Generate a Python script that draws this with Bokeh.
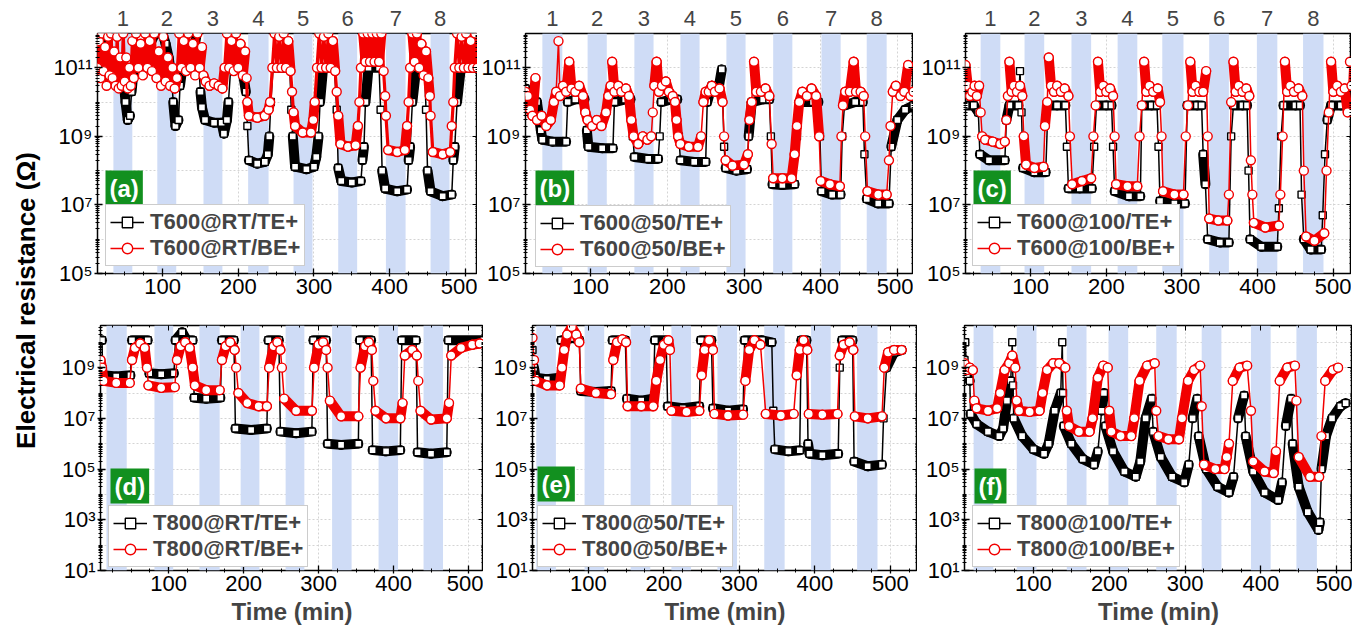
import math
from bokeh.plotting import figure
from bokeh.models import (Range1d, FixedTicker, LinearAxis, LogAxis, Legend, LegendItem,
                          Label, BoxAnnotation, CustomJSTickFormatter)
from bokeh.layouts import row, column
from bokeh.embed import file_html
from bokeh.resources import INLINE

FONT = "Liberation Sans"
BAND = "#cfdcf6"
GREEN = "#12901f"
RED = "#f20000"

# ---------------- data (time in min, resistance in ohm) ----------------
BANDS_A_START = [35, 93, 154, 213, 273, 332, 395, 454]
BANDS_A_END = [60, 118, 179, 240, 298, 357, 421, 479]
BANDS_B_START = [37, 96, 157, 217, 277, 338, 401, 460]
BANDS_B_END = [63, 121, 182, 242, 302, 363, 426, 486]
BANDS_C_START = [34, 92, 154, 215, 274, 336, 399, 460]
BANDS_C_END = [60, 118, 180, 241, 302, 362, 426, 487]
BANDS_D_START = [17, 81, 141, 196, 256, 318, 380, 440]
BANDS_D_END = [44, 106, 168, 221, 281, 344, 406, 466]
BANDS_E_START = [31, 95, 156, 210, 271, 333, 395, 456]
BANDS_E_END = [57, 121, 182, 236, 297, 360, 421, 483]
BANDS_F_START = [21, 78, 144, 199, 262, 322, 387, 447]
BANDS_F_END = [47, 104, 170, 225, 289, 348, 413, 474]

TE_A = [(14, 5e11), (18, 1e12), (22, 2e11), (28, 1e11), (35, 1e11), (48, 6e10), (51, 1e10), (54, 3e9),
        (57, 4e9), (59, 2e10), (62, 1e11), (75, 2e11), (90, 1e12), (100, 1e12), (104, 5e11), (108, 2e11),
        (112, 5e10), (114, 1e10), (117, 2e9), (121, 3e9), (123, 3e10), (126, 1e11), (140, 2e11), (145, 1e12),
        (150, 2e10), (152, 7e9), (156, 3e9), (168, 2.5e9), (178, 2.5e9), (181, 1.2e9), (185, 3e9), (187, 1e10),
        (190, 1e11), (205, 1e11), (210, 2e10), (212, 2e9), (214, 2e8), (225, 1.6e8), (235, 1.8e8), (239, 3e8),
        (241, 1e9), (243, 1e10), (246, 1e11), (268, 1e11), (270, 6e9), (272, 1e9), (275, 1.3e8), (290, 1.1e8),
        (300, 1.3e8), (303, 2.5e8), (306, 1e9), (308, 1e10), (312, 1e11), (327, 1e11), (330, 6e9), (332, 1.2e8),
        (336, 5e7), (350, 4.5e7), (362, 5e7), (364, 2e8), (366, 5e8), (368, 1e10), (372, 1e11), (386, 1e11),
        (388, 6e9), (390, 1e8), (394, 3e7), (410, 2.5e7), (423, 2.8e7), (425, 2e8), (427, 5e8), (430, 1e10),
        (435, 1e11), (446, 1e11), (448, 6e9), (450, 1e8), (454, 2.5e7), (470, 1.8e7), (482, 2e7), (484, 2e8),
        (486, 5e8), (489, 1e10), (494, 1e11), (516, 1e11)]
BE_A = [(14, 1e11), (16, 6e11), (18, 5e10), (20, 1e12), (22, 8e10), (24, 4e11), (26, 3e10), (28, 8e11),
        (30, 6e10), (32, 1e12), (34, 5e10), (36, 3e11), (38, 3e10), (40, 8e11), (42, 2.5e10), (44, 2e11),
        (46, 3e10), (48, 1e12), (50, 4e10), (52, 2e11), (54, 2.5e10), (56, 1e11), (58, 3e10), (60, 6e11),
        (62, 5e10), (65, 1e12), (68, 1e11), (71, 5e11), (74, 6e10), (77, 1e12), (80, 1e11), (83, 6e11),
        (86, 8e10), (89, 1e12), (92, 5e10), (95, 3e11), (98, 3e10), (101, 8e11), (104, 4e10), (107, 2e11),
        (110, 3e10), (113, 1e11), (116, 2.5e10), (119, 5e10), (122, 1e12), (125, 1e11), (128, 6e11), (131, 8e10),
        (134, 1e12), (137, 1e11), (140, 5e11), (143, 6e10), (146, 1e12), (149, 1e11), (152, 4e11), (154, 6e10),
        (157, 4e10), (162, 3e10), (168, 3.5e10), (174, 3e10), (179, 2.5e10), (182, 1e11), (185, 1e12), (188, 1e11),
        (191, 6e11), (194, 8e10), (197, 1e12), (200, 1e11), (203, 5e11), (206, 6e10), (209, 3e11), (211, 5e10),
        (212, 1e10), (214, 4e9), (225, 3.5e9), (235, 4e9), (240, 6e9), (242, 1e10), (245, 1e11), (248, 1e12),
        (251, 1e11), (254, 8e11), (257, 1e11), (260, 1e12), (263, 1e11), (266, 6e11), (269, 8e10), (271, 2e10),
        (273, 5e9), (275, 2e9), (285, 1.3e9), (296, 1.3e9), (299, 3e9), (301, 1e10), (304, 1e11), (307, 1e12),
        (310, 1e11), (313, 8e11), (316, 1e11), (319, 1e12), (322, 1e11), (325, 6e11), (328, 8e10), (330, 2e10),
        (332, 4e9), (335, 6e8), (345, 5e8), (355, 5.5e8), (358, 2e9), (360, 1e10), (362, 1e11), (365, 1e12),
        (368, 1.5e11), (371, 1e12), (374, 1.5e11), (377, 1e12), (380, 1.5e11), (383, 1e12), (386, 1.5e11),
        (389, 1e12), (392, 8e10), (394, 1.5e10), (395, 4e9), (398, 4e8), (410, 3.5e8), (420, 4e8), (423, 2e9),
        (425, 1e10), (427, 1e11), (430, 1e12), (433, 1.5e11), (436, 1e12), (439, 1e11), (442, 5e11), (445, 6e10),
        (448, 3e11), (451, 5e10), (453, 1.5e10), (454, 4e9), (457, 3.5e8), (470, 3e8), (480, 3.5e8), (482, 2e9),
        (484, 1e10), (486, 1e11), (489, 1e12), (492, 1e11), (495, 8e11), (498, 1e11), (501, 1e12), (504, 1e11),
        (507, 6e11), (510, 1e11), (513, 1e12), (516, 1e11)]

TE_B = [(15, 2.5e10), (22, 1.5e10), (30, 1e10), (35, 1.5e9), (37, 8e8), (50, 7e8), (68, 7e8), (70, 1e10),
        (80, 1.2e10), (92, 1.2e10), (95, 1.5e9), (97, 5e8), (115, 4.5e8), (129, 4.5e8), (131, 1e10), (145, 1.2e10),
        (152, 1.2e10), (155, 1e9), (157, 2.5e8), (175, 2.2e8), (188, 2.2e8), (190, 1e9), (192, 1e10), (205, 1.2e10),
        (213, 1.2e10), (215, 1e9), (217, 2e8), (235, 1.8e8), (250, 1.8e8), (252, 1e10), (258, 3e10), (266, 2e10),
        (271, 9e10), (274, 5e8), (276, 1.2e8), (290, 1e8), (304, 1.1e8), (306, 1e9), (310, 1e10), (325, 1.2e10),
        (333, 1.2e10), (335, 1e9), (337, 4e7), (350, 3.8e7), (366, 4e7), (369, 1e9), (372, 1e10), (390, 1e10),
        (397, 1e10), (399, 1e9), (401, 2.5e7), (415, 2e7), (426, 2e7), (428, 1e9), (431, 8e9), (445, 1e10),
        (455, 1e10), (457, 3e8), (460, 1.5e7), (475, 1.1e7), (489, 1.1e7), (492, 5e8), (500, 3e9), (510, 6e9),
        (521, 8e9)]
BE_B = [(15, 2e10), (18, 1.5e10), (21, 6e9), (24, 4e9), (28, 5e10), (30, 3e9), (36, 4e9), (42, 2e9),
        (48, 3e9), (52, 1e10), (55, 2e10), (58, 6e11), (60, 1.5e10), (64, 3e10), (68, 2e10), (72, 1.5e11),
        (75, 2.5e10), (80, 2e10), (85, 3e10), (90, 1.5e10), (93, 5e9), (96, 3e9), (102, 2e9), (108, 3e9),
        (114, 2e9), (120, 5e9), (123, 1.5e10), (126, 3e10), (128, 1.5e11), (131, 2e10), (136, 3e10), (140, 2e10),
        (146, 2.5e10), (150, 1.5e10), (153, 3e9), (156, 1e9), (162, 6e8), (168, 1e9), (174, 8e8), (179, 1e9),
        (181, 5e9), (183, 3e10), (186, 1.5e11), (189, 2e10), (193, 3e10), (198, 4e10), (202, 2e10), (207, 1.5e10),
        (210, 1e10), (212, 3e9), (214, 1e9), (217, 6e8), (228, 5e8), (240, 5e8), (244, 1e9), (247, 1e10),
        (250, 2e10), (254, 2e10), (258, 3e10), (262, 2e10), (268, 2.5e10), (272, 1e10), (274, 1e9), (276, 2e8),
        (285, 1.4e8), (300, 1.5e8), (305, 3e8), (307, 3e9), (310, 1e10), (313, 1.5e11), (316, 2e10), (322, 2e10),
        (328, 2.5e10), (333, 1.5e10), (336, 6e8), (338, 6e7), (350, 6e7), (362, 6e7), (366, 3e8), (369, 2e9),
        (372, 1e10), (376, 2e10), (382, 1.5e10), (388, 2.5e10), (394, 1.5e10), (398, 1e9), (400, 5e7),
        (412, 4e7), (425, 3.5e7), (427, 1e9), (429, 8e9), (432, 2e10), (438, 2e10), (443, 1.5e11), (446, 2e10),
        (452, 2e10), (456, 1.5e10), (458, 1e9), (461, 2.5e7), (475, 2e7), (486, 2e7), (489, 2e8), (491, 2e9),
        (494, 2e10), (498, 3e10), (504, 1.5e10), (509, 2e10), (514, 1.2e11), (517, 1.5e10), (521, 2e10)]

TE_C = [(14, 8e9), (25, 8e9), (31, 5e9), (33, 3e8), (45, 2e8), (66, 2e8), (68, 3e9), (72, 8e9), (84, 8e9),
        (86, 8e10), (88, 5e9), (90, 1.2e8), (105, 9e7), (120, 9e7), (123, 8e9), (135, 8e9), (146, 8e9),
        (148, 5e8), (150, 3e7), (165, 3e7), (181, 3e7), (184, 5e8), (187, 8e9), (200, 8e9), (207, 8e9),
        (209, 5e8), (211, 2.5e7), (230, 1.8e7), (245, 1.8e7), (247, 8e9), (260, 8e9), (267, 8e9), (269, 5e8),
        (271, 1.3e7), (290, 1.1e7), (304, 1.1e7), (307, 8e9), (320, 8e9), (326, 8e9), (328, 3e8), (331, 4e7),
        (334, 1e6), (350, 8e5), (362, 8e5), (365, 1e9), (368, 8e9), (380, 8e9), (386, 8e9), (388, 1e8),
        (390, 1e6), (405, 6e5), (426, 6e5), (428, 8e6), (431, 1e9), (434, 8e9), (450, 8e9), (456, 8e9),
        (458, 2e7), (461, 1e6), (470, 5e5), (484, 5e5), (486, 5e6), (489, 3e8), (492, 3e9), (497, 8e9),
        (510, 8e9), (524, 8e9)]
BE_C = [(14, 1.2e11), (17, 3e10), (20, 1.5e10), (23, 2e10), (26, 3e10), (29, 1.5e10), (32, 3e10), (34, 5e9),
        (36, 1e9), (40, 8e8), (50, 7e8), (60, 6e8), (66, 7e8), (68, 3e9), (70, 1.5e10), (72, 1.5e11), (75, 2e10),
        (78, 3e10), (82, 2e10), (86, 3e10), (89, 1.5e10), (91, 1e9), (94, 1.5e8), (105, 1.2e8), (117, 1.3e8),
        (119, 2e9), (122, 1e10), (124, 2e11), (127, 3e10), (131, 2e10), (135, 3e10), (140, 2e10), (145, 2.5e10),
        (150, 1.5e10), (152, 1e9), (155, 4e7), (168, 5e7), (180, 6e7), (183, 1e9), (186, 8e9), (189, 1.5e11),
        (192, 2e10), (196, 3e10), (200, 2e10), (205, 2.5e10), (209, 1.5e10), (211, 1e9), (213, 4e7), (228, 3.5e7),
        (241, 3.5e7), (244, 1e9), (247, 8e9), (250, 1.5e11), (253, 2e10), (257, 3e10), (262, 2e10), (268, 2.5e10),
        (271, 1e10), (273, 1e9), (275, 2.5e7), (290, 2e7), (302, 2e7), (305, 1e9), (308, 8e9), (311, 1.5e11),
        (314, 2e10), (318, 3e10), (323, 2e10), (328, 2e10), (332, 8e10), (334, 1e9), (336, 4e6), (348, 3.5e6),
        (360, 3.5e6), (362, 2e7), (365, 1e10), (368, 1.5e11), (371, 2e10), (375, 3e10), (380, 2e10), (385, 2.5e10),
        (389, 1.5e10), (391, 2e8), (393, 2e7), (395, 3e6), (410, 2.2e6), (428, 2.5e6), (430, 2e7), (433, 1e9),
        (436, 1.5e11), (439, 2e10), (443, 3e10), (448, 2e10), (454, 2.5e10), (459, 1.5e10), (461, 1e8),
        (464, 1.2e6), (475, 9e5), (488, 1.5e6), (491, 1e8), (494, 5e9), (497, 1.5e11), (500, 2e10), (505, 3e10),
        (510, 2e10), (515, 2.5e10), (519, 5e9), (522, 1.5e11), (524, 3e10)]

TE_D = [(9, 1.2e10), (11, 1.2e10), (12, 5e8), (30, 4.5e8), (49, 5e8), (51, 1.2e10), (72, 1.2e10), (74, 6e8),
        (90, 5.5e8), (107, 6e8), (109, 1.2e10), (118, 2.5e10), (124, 1.2e10), (132, 1.2e10), (134, 6.5e7),
        (150, 6e7), (169, 6.5e7), (171, 1.2e10), (187, 1.2e10), (189, 4e6), (210, 3.5e6), (231, 4e6),
        (233, 1.2e10), (247, 1.2e10), (249, 3e6), (270, 2.6e6), (291, 3e6), (293, 1.2e10), (310, 1.2e10),
        (312, 1e6), (330, 9e5), (353, 1e6), (355, 1.2e10), (370, 1.2e10), (372, 5.6e5), (390, 5e5), (409, 5.6e5),
        (411, 1.2e10), (430, 1.2e10), (432, 4.6e5), (450, 4e5), (471, 4.6e5), (473, 1.2e10), (520, 1.2e10)]
BE_D = [(9, 2e9), (11, 1e9), (13, 3e8), (30, 2.5e8), (48, 2.5e8), (51, 2e9), (55, 6e9), (62, 9e9), (68, 6e9),
        (71, 1e9), (73, 2e8), (90, 1.6e8), (108, 1.7e8), (111, 2e9), (116, 7e9), (122, 1e10), (128, 6e9),
        (132, 1e9), (135, 2e8), (150, 1.3e8), (168, 1.3e8), (171, 2e9), (176, 7e9), (182, 1e10), (188, 5e9),
        (190, 1e9), (193, 1e8), (205, 4e7), (220, 3e7), (231, 3e7), (234, 1e9), (240, 7e9), (245, 1e10),
        (249, 5e9), (251, 1e9), (254, 6e7), (270, 2e7), (291, 2e7), (294, 1e9), (300, 8e9), (306, 1e10),
        (310, 5e9), (312, 1e9), (315, 5e7), (330, 1.2e7), (353, 1.2e7), (356, 1e9), (362, 7e9), (367, 1e10),
        (371, 5e9), (373, 3e8), (376, 2e7), (390, 1e7), (409, 1e7), (412, 4e7), (415, 3e9), (425, 5e9),
        (431, 3e9), (433, 3e8), (436, 2e7), (450, 9e6), (471, 1e7), (474, 4e7), (477, 3e9), (490, 6e9),
        (505, 8e9), (515, 9e9)]

TE_E = [(26, 5e9), (28, 1e9), (30, 4e8), (45, 3.5e8), (62, 4e8), (64, 1.2e10), (80, 1.5e10), (88, 1.2e10),
        (90, 1.2e8), (110, 1.1e8), (130, 1.2e8), (132, 1.2e10), (149, 1.2e10), (151, 6e7), (170, 5e7),
        (186, 6e7), (188, 1.2e10), (203, 1.2e10), (205, 3e7), (225, 2.5e7), (247, 3e7), (249, 1.2e10),
        (263, 1.2e10), (265, 2.5e7), (285, 2e7), (305, 2.3e7), (307, 1.2e10), (330, 1.2e10), (343, 1e10),
        (345, 2e7), (347, 6e5), (365, 5e5), (380, 5.5e5), (382, 1.2e10), (389, 1.2e10), (391, 1e6), (393, 4e5),
        (410, 3.5e5), (431, 4e5), (433, 1e9), (436, 1.2e10), (450, 1.2e10), (452, 2e5), (470, 1.3e5),
        (489, 1.5e5), (491, 1e7), (495, 1e9), (505, 4e9), (515, 5e9)]
BE_E = [(26, 1.5e10), (28, 2e9), (30, 3e8), (45, 2e8), (62, 2e8), (65, 1e9), (68, 5e9), (72, 2e10),
        (78, 4e10), (84, 2e10), (88, 1e10), (90, 1.5e8), (110, 1e8), (130, 9e7), (133, 2e9), (138, 1e10),
        (145, 1.3e10), (150, 1e10), (152, 3e7), (170, 3e7), (186, 3e7), (190, 3e8), (195, 2e9), (200, 8e9),
        (206, 1.2e10), (208, 5e9), (210, 2e7), (230, 1.8e7), (247, 2e7), (250, 5e8), (254, 5e9), (260, 1.2e10),
        (265, 5e9), (267, 1.5e7), (285, 1.3e7), (305, 1.4e7), (308, 3e8), (313, 5e9), (320, 1.2e10), (328, 8e9),
        (335, 1.5e7), (355, 1.3e7), (372, 1.5e7), (376, 5e8), (380, 5e9), (385, 1.2e10), (390, 5e9),
        (392, 1.5e7), (410, 1.4e7), (430, 1.5e7), (433, 3e9), (438, 8e9), (446, 1e10), (451, 5e9), (453, 1.2e7),
        (470, 1e7), (489, 1.2e7), (492, 1e9), (497, 4e9), (505, 5e9), (515, 5e9)]

TE_F = [(9, 2e9), (10, 1e10), (12, 5e8), (16, 3e8), (17, 1.5e7), (25, 6e6), (40, 3e6), (55, 2e6), (60, 4e6),
        (65, 5e7), (70, 3e8), (72, 1e10), (73, 2e8), (74, 1e7), (85, 2e6), (100, 6e5), (114, 4e5), (120, 1e6),
        (128, 2e7), (136, 1e8), (138, 1e10), (139, 1e8), (140, 5e6), (150, 1e6), (165, 2.5e5), (180, 1.5e5),
        (185, 5e5), (190, 2e7), (193, 1e8), (195, 5e6), (205, 5e5), (220, 8e4), (235, 5e4), (241, 2e5),
        (248, 1e7), (256, 6e7), (258, 3e6), (268, 3e5), (283, 5e4), (299, 3e4), (305, 1.5e5), (310, 1e7),
        (316, 6e7), (318, 2e6), (328, 1e5), (343, 2e4), (358, 1.2e4), (364, 5e4), (370, 1e7), (378, 8e7),
        (380, 2e6), (390, 8e4), (405, 1.2e4), (423, 6e3), (428, 3e4), (433, 5e6), (440, 6e7), (442, 1e6),
        (450, 2e4), (462, 2e3), (476, 4e2), (478, 8e2), (480, 1e5), (486, 2e6), (494, 1e7), (505, 3e7),
        (512, 4e7)]
BE_F = [(9, 1.5e9), (12, 8e8), (16, 1e9), (20, 8e8), (22, 5e7), (25, 2.5e7), (40, 2e7), (52, 2.5e7),
        (56, 1e8), (62, 8e8), (68, 1.5e9), (72, 3e9), (76, 1e9), (78, 5e7), (81, 2e7), (95, 1.8e7), (108, 2e7),
        (112, 1e8), (118, 8e8), (126, 1.5e9), (134, 1.5e9), (142, 1e9), (144, 2e7), (147, 5e6), (160, 3e6),
        (174, 3e6), (178, 1e7), (185, 4e8), (192, 1.2e9), (198, 1e9), (200, 2e7), (203, 3e6), (215, 2e6),
        (229, 2e6), (233, 1e7), (240, 3e8), (250, 1.2e9), (260, 1.5e9), (262, 2e7), (265, 2e6), (278, 1.5e6),
        (292, 1.5e6), (296, 1e7), (304, 3e8), (312, 8e8), (320, 1.2e9), (322, 3e7), (325, 1.5e5), (340, 1e5),
        (352, 1e5), (355, 3e5), (358, 1e6), (363, 3e8), (372, 1e9), (382, 1.2e9), (387, 2e7), (390, 2e5),
        (405, 8e4), (417, 7e4), (420, 5e5), (425, 3e8), (435, 1e9), (445, 1.2e9), (447, 5e7), (450, 3e5),
        (465, 5e4), (477, 5e4), (480, 2e6), (485, 3e8), (495, 8e8), (502, 1e9)]

X_TICKS = [100, 200, 300, 400, 500]
Y_TICKS_TOP = [1e5, 1e7, 1e9, 1e11]
Y_TICKS_BOTTOM = [1e1, 1e3, 1e5, 1e7, 1e9]

PANELS = [
    dict(tag="(a)", te=TE_A, be=BE_A, te_lab="T600@RT/TE+", be_lab="T600@RT/BE+", bs=BANDS_A_START, be_=BANDS_A_END,
         xr=(14, 516), top=True, ml=53, fw=380, leg=(8, 7), lab=(8, 68), rw=3.2),
    dict(tag="(b)", te=TE_B, be=BE_B, te_lab="T600@50/TE+", be_lab="T600@50/BE+", bs=BANDS_B_START, be_=BANDS_B_END,
         xr=(15, 521), top=True, ml=48, fw=388, leg=(10, 6), lab=(10, 68), rw=0),
    dict(tag="(c)", te=TE_C, be=BE_C, te_lab="T600@100/TE+", be_lab="T600@100/BE+", bs=BANDS_C_START, be_=BANDS_C_END,
         xr=(14, 524), top=True, ml=52, fw=386, leg=(7, 7), lab=(8, 68), rw=0),
    dict(tag="(d)", te=TE_D, be=BE_D, te_lab="T800@RT/TE+", be_lab="T800@RT/BE+", bs=BANDS_D_START, be_=BANDS_D_END,
         xr=(9, 520), top=False, ml=56, fw=383, leg=(8, 3), lab=(10, 67), rw=0),
    dict(tag="(e)", te=TE_E, be=BE_E, te_lab="T800@50/TE+", be_lab="T800@50/BE+", bs=BANDS_E_START, be_=BANDS_E_END,
         xr=(26, 536), top=False, ml=49, fw=385, leg=(5, 3), lab=(5, 69), rw=0),
    dict(tag="(f)", te=TE_F, be=BE_F, te_lab="T800@100/TE+", be_lab="T800@100/BE+", bs=BANDS_F_START, be_=BANDS_F_END,
         xr=(9, 521), top=False, ml=47, fw=388, leg=(8, 3), lab=(10, 67), rw=0),
]

SUP_JS = """
const sup = {"0":"\u2070","1":"\u00b9","2":"\u00b2","3":"\u00b3","4":"\u2074","5":"\u2075","6":"\u2076","7":"\u2077","8":"\u2078","9":"\u2079","-":"\u207b"};
const e = Math.round(Math.log10(tick));
return "10" + String(e).split("").map(c => sup[c]).join("");
"""


def decade_minors(lo, hi):
    out = []
    for n in range(lo, hi + 1):
        for k in range(1, 10):
            out.append(k * 10.0 ** n)
    return out


def add_series(p, pairs, color, marker, size, heavy_w):
    t = [a for a, b in pairs]
    r = [b for a, b in pairs]
    if heavy_w > 0:
        p.line(t, r, line_color=color, line_width=heavy_w)
    ln = p.line(t, r, line_color=color, line_width=1.5)
    x0, y0, x1, y1 = [], [], [], []
    for (ta, ra), (tb, rb) in zip(pairs[:-1], pairs[1:]):
        dl = abs(math.log10(rb / ra))
        if dl < 0.36 or dl / (tb - ta) < 0.3:
            x0.append(ta); y0.append(ra); x1.append(tb); y1.append(rb)
    p.segment(x0=x0, y0=y0, x1=x1, y1=y1, line_color=color, line_width=10, line_cap="round")
    sc = p.scatter(t, r, marker=marker, size=size, line_color=color, fill_color="white", line_width=1.4)
    return ln, sc


def make_panel(d):
    top = d["top"]
    yr = (1e5, 1e12) if top else (1e1, 4.6e10)
    p = figure(frame_width=d["fw"], frame_height=240 if top else 245,
               x_range=Range1d(*d["xr"]), y_range=Range1d(*yr), y_axis_type="log",
               output_backend="svg", toolbar_location=None,
               min_border_left=d["ml"], min_border_right=0,
               min_border_top=33 if top else 20, min_border_bottom=32 if top else 65,
               background_fill_color="white", border_fill_color="white")
    p.outline_line_color = "black"
    p.outline_line_width = 1.5

    majors = Y_TICKS_TOP if top else Y_TICKS_BOTTOM
    minors = decade_minors(5, 11) if top else decade_minors(1, 10)
    yt = FixedTicker(ticks=majors, minor_ticks=minors)
    xt = FixedTicker(ticks=X_TICKS, minor_ticks=list(range(0, 550, 25)))

    p.xgrid.ticker = FixedTicker(ticks=X_TICKS)
    p.ygrid.ticker = FixedTicker(ticks=[10.0 ** n for n in (range(5, 12) if top else range(1, 11))])
    for g in (p.xgrid, p.ygrid):
        g.grid_line_color = "#d4d4d4"
        g.grid_line_dash = "2 2"
        g.grid_line_width = 1

    for s, e in zip(d["bs"], d["be_"]):
        p.add_layout(BoxAnnotation(left=s, right=e, fill_color=BAND, fill_alpha=1.0,
                                   line_color=None, level="underlay"))

    ya = p.yaxis[0]
    ya.ticker = yt
    ya.formatter = CustomJSTickFormatter(code=SUP_JS)
    xa = p.xaxis[0]
    xa.ticker = xt
    for ax in (xa, ya):
        ax.major_label_text_font = FONT
        ax.major_label_text_font_size = "22px"
        ax.major_label_text_color = "black"
        ax.axis_line_color = None
        ax.major_tick_in = 5
        ax.major_tick_out = 3
        ax.minor_tick_in = 2
        ax.minor_tick_out = 2
        ax.major_tick_line_color = "black"
        ax.minor_tick_line_color = "black"
        ax.major_tick_line_width = 1.3
    ya.major_label_standoff = 2
    xa.major_label_standoff = 2
    if not top:
        xa.axis_label = "Time (min)"
        xa.axis_label_text_font = FONT
        xa.axis_label_text_font_size = "24px"
        xa.axis_label_text_font_style = "bold"
        xa.axis_label_standoff = 4

    ra = LogAxis(ticker=yt, formatter=CustomJSTickFormatter(code="return '';"),
                 major_tick_in=5, major_tick_out=0, minor_tick_in=2, minor_tick_out=0,
                 major_label_standoff=0, axis_line_color=None,
                 major_tick_line_color="black", minor_tick_line_color="black")
    p.add_layout(ra, "right")

    if top:
        centers = [(s + e) / 2 for s, e in zip(d["bs"], d["be_"])]
        na = LinearAxis(ticker=FixedTicker(ticks=centers, minor_ticks=[]),
                        formatter=CustomJSTickFormatter(args=dict(c=centers), code="""
const i = c.findIndex(v => Math.abs(v - tick) < 1e-6);
return i < 0 ? '' : String(i + 1);
"""),
                        axis_line_color=None, major_tick_line_color=None, minor_tick_line_color=None,
                        major_label_text_font=FONT, major_label_text_font_size="22px",
                        major_label_standoff=2)
        p.add_layout(na, "above")
    else:
        ta = LinearAxis(ticker=xt, formatter=CustomJSTickFormatter(code="return '';"),
                        major_tick_in=5, major_tick_out=0, minor_tick_in=2, minor_tick_out=0,
                        major_label_standoff=0, axis_line_color=None,
                        major_tick_line_color="black", minor_tick_line_color="black")
        p.add_layout(ta, "above")

    ln_k, sc_k = add_series(p, d["te"], "black", "square", 7, 0)
    ln_r, sc_r = add_series(p, d["be"], RED, "circle", 9, d["rw"])

    leg = Legend(items=[LegendItem(label=d["te_lab"], renderers=[ln_k, sc_k]),
                        LegendItem(label=d["be_lab"], renderers=[ln_r, sc_r])],
                 location=d["leg"], margin=0, padding=4, spacing=0,
                 glyph_width=34, glyph_height=26, label_standoff=6,
                 label_text_font=FONT, label_text_font_size="22px", label_text_font_style="bold",
                 label_height=26, border_line_color="#9a9a9a", border_line_width=1,
                 background_fill_color="white", background_fill_alpha=1.0)
    p.add_layout(leg)

    p.add_layout(Label(x=d["lab"][0], y=d["lab"][1], x_units="screen", y_units="screen",
                       text=d["tag"], text_color="white", text_font=FONT, text_font_size="24px",
                       text_font_style="bold", background_fill_color=GREEN, padding=4,
                       text_align="left", text_baseline="bottom"))
    return p


figs = [make_panel(d) for d in PANELS]

lab = figure(width=44, height=635, x_range=Range1d(0, 1), y_range=Range1d(0, 1),
             output_backend="svg", toolbar_location=None, min_border=0,
             x_axis_location=None, y_axis_location=None, outline_line_color=None)
lab.grid.visible = False
lab.add_layout(Label(x=25, y=335, x_units="screen", y_units="screen",
                     text="Electrical resistance (\u03a9)", angle=math.pi / 2,
                     text_align="center", text_baseline="middle", text_font=FONT,
                     text_font_size="26px", text_font_style="bold", text_color="black"))

layout = row(lab, column(row(*figs[:3]), row(*figs[3:])))
open("out.html", "w").write(file_html(layout, INLINE))
